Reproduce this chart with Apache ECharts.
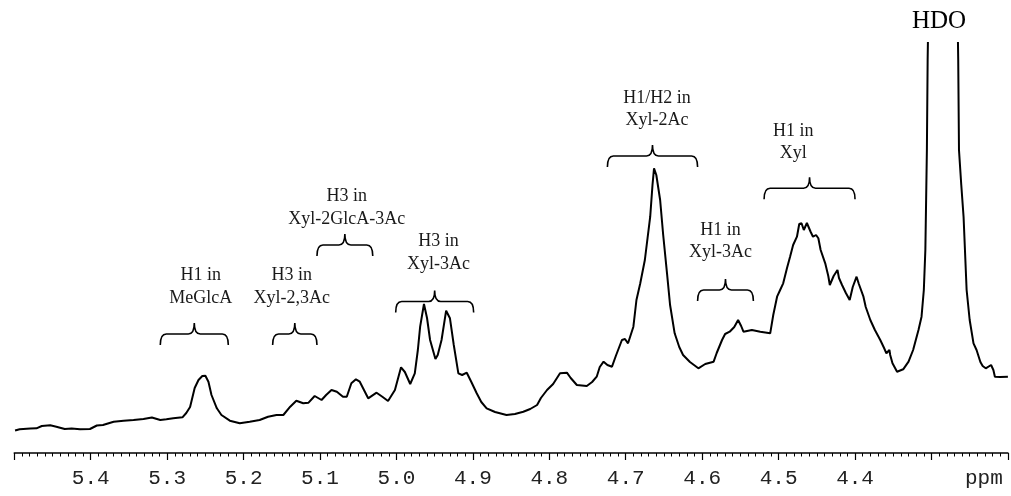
<!DOCTYPE html>
<html>
<head>
<meta charset="utf-8">
<script src="https://cdn.jsdelivr.net/npm/echarts@6/dist/echarts.min.js"></script>
<style>html,body{margin:0;padding:0;background:#fff;}#c{width:1011px;height:496px;}</style>
</head>
<body>
<div id="c"></div>
<script>
// Chemical shift (ppm) of each traced point
const ppm = [5.499,5.493,5.479,5.471,5.464,5.453,5.445,5.434,5.425,5.414,
5.401,5.392,5.384,5.370,5.357,5.344,5.331,5.320,5.309,5.301,
5.292,5.280,5.275,5.270,5.264,5.259,5.254,5.250,5.246,5.242,
5.235,5.229,5.218,5.205,5.192,5.179,5.168,5.157,5.148,5.139,
5.131,5.122,5.115,5.107,5.098,5.092,5.085,5.078,5.070,5.065,
5.059,5.053,5.048,5.037,5.026,5.018,5.011,5.002,4.994,4.989,
4.982,4.976,4.972,4.969,4.964,4.960,4.956,4.949,4.946,4.941,
4.935,4.930,4.925,4.919,4.914,4.908,4.902,4.895,4.889,4.882,
4.871,4.856,4.845,4.834,4.825,4.816,4.811,4.803,4.795,4.786,
4.777,4.772,4.764,4.751,4.744,4.738,4.734,4.729,4.724,4.718,
4.713,4.705,4.701,4.697,4.690,4.686,4.681,4.675,4.668,4.665,
4.663,4.660,4.655,4.651,4.646,4.642,4.636,4.630,4.625,4.616,
4.605,4.596,4.585,4.581,4.574,4.570,4.564,4.558,4.553,4.549,
4.546,4.535,4.524,4.511,4.507,4.502,4.498,4.494,4.489,4.485,
4.481,4.476,4.473,4.470,4.467,4.465,4.463,4.461,4.458,4.455,
4.451,4.448,4.445,4.439,4.435,4.433,4.428,4.423,4.421,4.417,
4.412,4.407,4.403,4.398,4.395,4.389,4.386,4.380,4.374,4.367,
4.362,4.359,4.355,4.354,4.351,4.345,4.337,4.330,4.324,4.317,
4.313,4.310,4.308,4.306,4.305,4.299,4.293,4.285,4.277,4.271,
4.265,4.264,4.261,4.258,4.254,4.250,4.245,4.241,4.236,4.233,
4.229,4.222,4.219,4.217,4.210,4.200];

// Signal intensity (arbitrary units) at each point
const intensity = [22.5,23.7,24.5,24.7,27,27.8,26.3,24,24.5,23.7,
24,27.5,28,31.3,32.3,33,34,35.5,33,33.7,
34.7,35.7,40,46,65,73,77,77.3,71.3,58,
44.7,38,32.3,29.7,31.3,33,36.3,38,38,46.3,
52.3,49.7,50.3,57,53,58,63,61.3,56.3,56.3,
69.7,73.7,71.3,54.7,60.3,56,52,63,85.7,81,
69,79.7,103,126.3,149,135,113,94,98,113,
142.3,134.7,108,79.7,78,80.3,71,59.7,51,44.7,
41,38,39,41.3,44,48,55,63,69,79.7,
80.3,75,68,67,71,76.3,86,91.3,88,86.3,
97,113,114,109.7,126.3,153,169.7,193,236.3,268,
284.7,278,253,218,179.7,148,119.7,106,98,91,
84.7,89,91.3,100,113,119,121.3,126,133,127,
121.3,123,121.3,119.7,138,156.3,163,169.7,185,196.3,
208,216.3,229,229.7,223,225,230,229.7,221,216.3,
218,214.7,203,189.7,177,168,177,183,175,168,
160,153,166,176.3,169,156.3,146,133,123,113,
105,99.7,103,98,89.7,81.3,83.7,91.3,103,123,
136.3,163,203,303,393,700,1100,1300,1100,700,
393,303,268,236.3,163,133,109.7,103,91,87,
84.7,88,83,76.3,76,76.3];

// Assignment brackets (ppm range and height in intensity units)
const bracketFrom  = [5.309, 5.162, 5.104, 5.001, 4.724, 4.606, 4.519];
const bracketTo    = [5.220, 5.104, 5.031, 4.899, 4.606, 4.533, 4.400];
const bracketLevel = [119, 119, 208, 151.5, 297, 163, 264.7];

// Assignment labels
const labelText  = ['H1 in\nMeGlcA', 'H3 in\nXyl-2,3Ac', 'H3 in\nXyl-2GlcA-3Ac', 'H3 in\nXyl-3Ac',
                    'H1/H2 in\nXyl-2Ac', 'H1 in\nXyl-3Ac', 'H1 in\nXyl'];
const labelPpm   = [5.256, 5.137, 5.065, 4.945, 4.659, 4.576, 4.481];
const labelLevel = [166, 166, 245, 200, 343.8, 211.6, 310.8];

// Axis tick labels shown
const tickLabels = ['5.4','5.3','5.2','5.1','5.0','4.9','4.8','4.7','4.6','4.5','4.4'];

const spectrum = ppm.map((p, i) => [p, intensity[i]]);
const brackets = bracketFrom.map((f, i) => [f, bracketTo[i], bracketLevel[i]]);
const labels = labelPpm.map((p, i) => [p, labelLevel[i]]);

const chart = echarts.init(document.getElementById('c'), null, {renderer: 'canvas'});
chart.setOption({
  backgroundColor: '#fff',
  animation: false,
  grid: {left: 14.3, right: 3.1, top: 43, bottom: 43},
  xAxis: {
    type: 'value', inverse: true, min: 4.2, max: 5.5, interval: 0.1,
    axisLine: {show: true, onZero: false, lineStyle: {color: '#000', width: 1.6}},
    axisTick: {show: true, length: 7, lineStyle: {color: '#000', width: 1.2}},
    minorTick: {show: true, splitNumber: 10, length: 3.5, lineStyle: {color: '#000', width: 1}},
    splitLine: {show: false},
    axisLabel: {
      margin: 15, color: '#222', fontFamily: '"Liberation Mono", "DejaVu Sans Mono", monospace', fontSize: 21,
      showMinLabel: true, showMaxLabel: true,
      formatter: v => { const s = (Math.round(v * 10) / 10).toFixed(1); return tickLabels.indexOf(s) >= 0 ? s : ''; }
    }
  },
  yAxis: {type: 'value', min: 0, max: 410, show: false, splitLine: {show: false}},
  graphic: [
    {type: 'text', left: 965, top: 468, style: {text: 'ppm', fill: '#222', font: '21px "Liberation Mono", monospace'}},
    {type: 'text', left: 912, top: 9, style: {text: 'HDO', fill: '#000', font: '25px "Liberation Serif", serif'}}
  ],
  series: [
    {
      type: 'line', data: spectrum, showSymbol: false, clip: true, smooth: false,
      lineStyle: {color: '#000', width: 2}
    },
    {
      type: 'custom', data: brackets, clip: false,
      encode: {x: [0, 1], y: 2},
      renderItem: (params, api) => {
        const p1 = api.coord([api.value(0), api.value(2)]);
        const p2 = api.coord([api.value(1), api.value(2)]);
        const xa = Math.min(p1[0], p2[0]), xb = Math.max(p1[0], p2[0]);
        const y = p1[1], xc = (xa + xb) / 2, h = 11, r = 6;
        const d = `M${xa},${y + h} Q${xa},${y} ${xa + r},${y} L${xc - r},${y} Q${xc},${y} ${xc},${y - h} ` +
                  `Q${xc},${y} ${xc + r},${y} L${xb - r},${y} Q${xb},${y} ${xb},${y + h}`;
        return {type: 'path', shape: {pathData: d}, style: {stroke: '#000', lineWidth: 1.6, fill: null}};
      }
    },
    {
      type: 'custom', data: labels, clip: false,
      encode: {x: 0, y: 1},
      renderItem: (params, api) => {
        const p = api.coord([api.value(0), api.value(1)]);
        return {type: 'text', x: p[0], y: p[1], style: {
          text: labelText[params.dataIndex], align: 'center', verticalAlign: 'middle',
          font: '18px "Liberation Serif", serif', lineHeight: 22.5, fill: '#1a1a1a'
        }};
      }
    }
  ]
});
</script>
</body>
</html>
